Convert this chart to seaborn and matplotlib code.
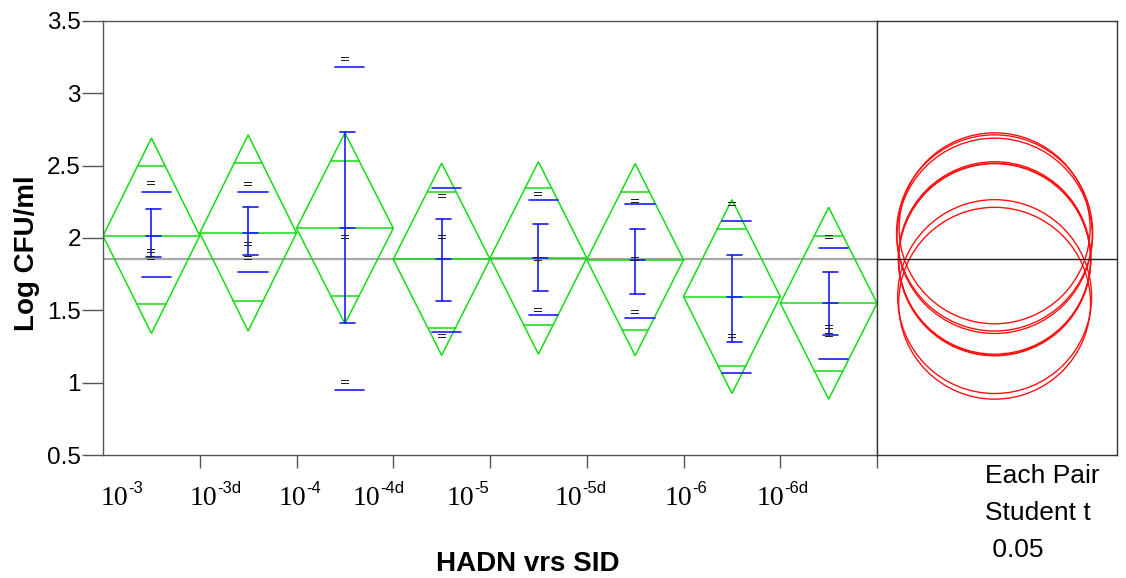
"""Means diamonds with comparison circles for HADN vs SID dilutions."""

import matplotlib

matplotlib.use("Agg")
import matplotlib.pyplot as plt
import numpy as np
import pandas as pd
import seaborn as sns
from matplotlib.patches import Circle, Polygon
from matplotlib.transforms import blended_transform_factory

sns.set_theme(style="white")
plt.rcParams["font.family"] = ["Liberation Sans", "DejaVu Sans"]
plt.rcParams["text.color"] = "black"
plt.rcParams["ytick.labelcolor"] = "black"

# groups and their tick label pieces ("10" + superscript)
groups = ["10-3", "10-3d", "10-4", "10-4d", "10-5", "10-5d", "10-6", "10-6d"]
label_sup = ["-3", "-3d", "-4", "-4d", "-5", "-5d", "-6", "-6d"]

# group statistics
means = [2.015, 2.035, 2.067, 1.853, 1.862, 1.850, 1.595, 1.549]
ci_half = [0.675, 0.678, 0.660, 0.664, 0.665, 0.664, 0.670, 0.663]
overlap_hi = [2.500, 2.517, 2.532, 2.316, 2.348, 2.316, 2.065, 2.014]
overlap_lo = [1.546, 1.565, 1.600, 1.380, 1.397, 1.362, 1.116, 1.081]
sd_hi = [2.316, 2.316, 3.184, 2.348, 2.265, 2.235, 2.116, 1.933]
sd_lo = [1.733, 1.765, 0.950, 1.349, 1.466, 1.447, 1.065, 1.164]
se_hi = [2.199, 2.215, 2.733, 2.132, 2.100, 2.065, 1.881, 1.763]
se_lo = [1.867, 1.880, 1.415, 1.565, 1.632, 1.615, 1.282, 1.332]
grand_mean = 1.853

# raw observations (drawn as "=" marks)
point_group = [
    "10-3", "10-3", "10-3",
    "10-3d", "10-3d", "10-3d",
    "10-4", "10-4", "10-4",
    "10-4d", "10-4d", "10-4d",
    "10-5", "10-5", "10-5",
    "10-5d", "10-5d", "10-5d",
    "10-6", "10-6",
    "10-6d", "10-6d", "10-6d",
]
point_value = [
    2.378, 1.911, 1.860,
    2.376, 1.959, 1.860,
    3.240, 2.010, 1.007,
    2.293, 2.010, 1.325,
    2.306, 1.857, 1.503,
    2.256, 1.857, 1.489,
    2.233, 1.325,
    2.007, 1.387, 1.328,
]

# x anchor (in category units) where "10" ends and the superscript starts
label_anchor = [0.26, 1.18, 2.10, 2.87, 3.84, 4.95, 6.09, 7.04]

GREEN = "#14dc14"
BLUE = "#1a1aff"
RED = "#ff1010"

fig = plt.figure(figsize=(11.26, 5.78), dpi=100)
ax = fig.add_axes([0.0915, 0.2128, 0.6874, 0.7509])
ax2 = fig.add_axes([0.7789, 0.2128, 0.2131, 0.7509])

ax.set_xlim(0, len(groups))
ax.set_ylim(0.5, 3.5)

ax.axhline(grand_mean, color="#a8a8a8", lw=1.6, zorder=1)

for i, g in enumerate(groups):
    c = i + 0.5
    m, h = means[i], ci_half[i]
    diamond = Polygon(
        [(i, m), (c, m + h), (i + 1, m), (c, m - h)],
        closed=True, fill=False, edgecolor=GREEN, lw=1.1, zorder=2,
    )
    ax.add_patch(diamond)
    ax.plot([i, i + 1], [m, m], color=GREEN, lw=1.1, zorder=2)
    for v in (overlap_hi[i], overlap_lo[i]):
        half_w = 0.5 * (1 - abs(v - m) / h)
        ax.plot([c - half_w, c + half_w], [v, v], color=GREEN, lw=1.1, zorder=2)

    # std dev lines
    for v in (sd_hi[i], sd_lo[i]):
        ax.plot([c - 0.10, c + 0.20], [v, v], color=BLUE, lw=1.2, zorder=3)
    # standard error bar
    ax.plot([c, c], [se_lo[i], se_hi[i]], color=BLUE, lw=1.2, zorder=3)
    for v in (se_lo[i], se_hi[i], m):
        ax.plot([c - 0.055, c + 0.10], [v, v], color=BLUE, lw=1.2, zorder=3)

points = pd.DataFrame({"group": point_group, "value": point_value})
points["x"] = points["group"].map({g: i + 0.5 for i, g in enumerate(groups)})
sns.scatterplot(
    data=points, x="x", y="value", marker="$=$", s=40,
    color="#222222", linewidth=0, ax=ax, zorder=4, legend=False,
)

ax.set_xticks(range(1, len(groups) + 1))
ax.set_xticklabels([])
ax.set_yticks([0.5, 1, 1.5, 2, 2.5, 3, 3.5])
ax.set_yticklabels(["0.5", "1", "1.5", "2", "2.5", "3", "3.5"])
ax.tick_params(axis="x", direction="out", length=9, width=1, color="#555555", bottom=True)
ax.tick_params(axis="y", direction="out", length=15, width=1, color="#555555",
               pad=1, labelsize=17.5, labelcolor="black", left=True)
for side in ("left", "bottom", "top", "right"):
    ax.spines[side].set_color("#555555")
    ax.spines[side].set_linewidth(1.0)

ax.set_xlabel("HADN vrs SID", fontsize=20, fontweight="bold", color="black")
ax.xaxis.set_label_coords(0.549, -0.222)
ax.set_ylabel("Log CFU/ml", fontsize=20, fontweight="bold", color="black")
ax.yaxis.set_label_coords(-0.082, 0.465)

# tick labels: "10" in a serif face with a small superscript
trans = blended_transform_factory(ax.transData, fig.transFigure)
for x, sup in zip(label_anchor, label_sup):
    ax.text(x, 0.1263, "10", transform=trans, ha="right", va="baseline",
            fontsize=20, color="black", family=["Liberation Serif", "DejaVu Serif"])
    ax.text(x, 0.1470, sup, transform=trans, ha="left", va="baseline",
            fontsize=12, color="black")

# comparison circles panel
ax2.set_ylim(0.5, 3.5)
px_per_unit = 0.7509 * 578 / 3.0
x_span = 0.2131 * 1126 / px_per_unit
ax2.set_xlim(0, x_span)
cx = 0.49 * x_span
for m, h in zip(means, ci_half):
    ax2.add_patch(Circle((cx, m), h, fill=False, edgecolor=RED, lw=1.0))
ax2.axhline(grand_mean, color="#222222", lw=1.0)
ax2.set_xticks([])
ax2.set_yticks([])
for side in ("left", "bottom", "top", "right"):
    ax2.spines[side].set_color("#333333")
    ax2.spines[side].set_linewidth(1.0)

fig.text(0.8748, 0.1765, "Each Pair", fontsize=19, va="center", ha="left", color="black")
fig.text(0.8748, 0.1125, "Student t", fontsize=19, va="center", ha="left", color="black")
fig.text(0.8748, 0.0484, " 0.05", fontsize=19, va="center", ha="left", color="black")

fig.savefig("out.png", dpi=100)
